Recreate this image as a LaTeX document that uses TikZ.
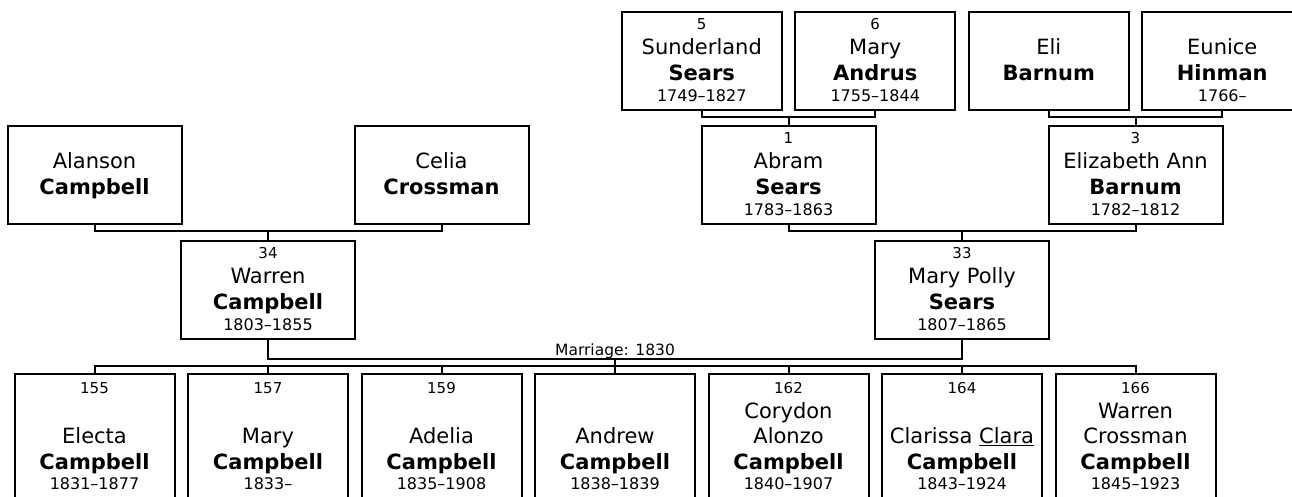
\documentclass[tikz,border=0pt]{standalone}
\usepackage{fontspec}
\setmainfont{DejaVu Sans}
\newcommand{\numf}{\fontsize{15}{17}\selectfont}
\newcommand{\namef}{\fontsize{21}{25}\selectfont}
\newcommand{\datef}{\fontsize{16}{19}\selectfont}
\newcommand{\pline}[2]{\baselineskip=#1\relax\hbox to\hsize{\hss#2\hss}}
\newcommand{\who}[4]{\vtop{\hsize=0pt\lineskiplimit=-\maxdimen
	\pline{0pt}{\numf #1}\pline{25pt}{\namef #2}\pline{26pt}{\namef\bfseries #3}\pline{21pt}{\datef #4}}}
\newcommand{\kid}[5]{\vtop{\hsize=0pt\lineskiplimit=-\maxdimen
	\pline{0pt}{\numf #1}\pline{25pt}{\namef #2}\pline{25pt}{\namef #3}\pline{26.5pt}{\namef\bfseries #4}\pline{20pt}{\datef #5}}}
\begin{document}
\begin{tikzpicture}[x=1pt,y=-1pt,
		person/.style={draw,line width=2pt,inner sep=0pt,anchor=north,minimum width=160pt,text height=17pt,text depth=81pt},
		wide/.style={person,minimum width=174pt},
		kidbox/.style={person,text height=19pt,text depth=107pt},
		link/.style={line width=2pt}]
	\useasboundingbox (0,0) rectangle (1292,496);
	\clip (0,0) rectangle (1292,496);
	% great-grandparents
	\node[person] (sund) at (701.75,11) {\who{5}{Sunderland}{Sears}{1749--1827}};
	\node[person] (andrus) at (875.25,11) {\who{6}{Mary}{Andrus}{1755--1844}};
	\node[person] (eli) at (1048.75,11) {\who{}{Eli}{Barnum}{}};
	\node[person] (eunice) at (1222.25,11) {\who{}{Eunice}{Hinman}{1766--}};
	% grandparents
	\node[wide] (alanson) at (94.5,125) {\who{}{Alanson}{Campbell}{}};
	\node[wide] (celia) at (441.5,125) {\who{}{Celia}{Crossman}{}};
	\node[wide] (abram) at (788.5,125) {\who{1}{Abram}{Sears}{1783--1863}};
	\node[wide] (eliz) at (1135.5,125) {\who{3}{Elizabeth Ann}{Barnum}{1782--1812}};
	% parents
	\node[wide] (warren) at (268,240) {\who{34}{Warren}{Campbell}{1803--1855}};
	\node[wide] (polly) at (962,240) {\who{33}{Mary Polly}{Sears}{1807--1865}};
	% children
	\node[kidbox] (c1) at (94.5,373) {\kid{155}{}{Electa}{Campbell}{1831--1877}};
	\node[kidbox] (c2) at (268,373) {\kid{157}{}{Mary}{Campbell}{1833--}};
	\node[kidbox] (c3) at (441.5,373) {\kid{159}{}{Adelia}{Campbell}{1835--1908}};
	\node[kidbox] (c4) at (615,373) {\kid{}{}{Andrew}{Campbell}{1838--1839}};
	\node[kidbox] (c5) at (788.5,373) {\kid{162}{Corydon}{Alonzo}{Campbell}{1840--1907}};
	\node[kidbox] (c6) at (962,373) {\kid{164}{}{Clarissa \underline{Clara}}{Campbell}{1843--1924}};
	\node[kidbox] (c7) at (1135.5,373) {\kid{166}{Warren}{Crossman}{Campbell}{1845--1923}};
	% bars
	\coordinate (sa) at (788.5,116.5);
	\coordinate (eh) at (1135.5,116.5);
	\coordinate (ac) at (268,230.5);
	\coordinate (ae) at (962,230.5);
	\coordinate (mar) at (615,359);
	\coordinate (kids) at (615,366);
	\draw[link] (sund.south) |- (sa) -| (andrus.south) (sa) -- (abram.north);
	\draw[link] (eli.south) |- (eh) -| (eunice.south) (eh) -- (eliz.north);
	\draw[link] (alanson.south) |- (ac) -| (celia.south) (ac) -- (warren.north);
	\draw[link] (abram.south) |- (ae) -| (eliz.south) (ae) -- (polly.north);
	\draw[link] (warren.south) |- (mar) -| (polly.south) (mar) -- (kids);
	\node[above,inner sep=0pt,font=\fontsize{15.5}{18}\selectfont] (wed) at (mar) {Marriage: 1830};
	\draw[link] (c1.north) |- (kids) -| (c7.north);
	\foreach \i in {2,...,6}
		\draw[link] (c\i.north) -- (c\i.north |- kids);
\end{tikzpicture}
\end{document}
